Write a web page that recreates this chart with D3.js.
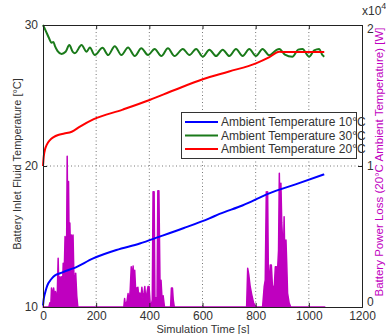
<!DOCTYPE html>
<html><head><meta charset="utf-8">
<script src="https://cdn.jsdelivr.net/npm/d3@7"></script>
<style>
body{margin:0;background:#fff;}
text{font-family:"Liberation Sans",Arial,sans-serif;}
</style></head>
<body><svg id="c" width="386" height="334"></svg>
<script>
const xTicks=[0,200,400,600,800,1000,1200];
const yLeftTicks=[10,20,30];
const yRightTicks=[0,10000,20000];
const yRightTickLabels=["0","1","2"];

const blueT=[0,3,7.5,13,20,30,39,50,64,85,114,189,276,364,439,530,626,664,750,851,950,1058];
const blueV=[10.1,10.6,10.97,11.35,11.68,11.95,12.15,12.3,12.39,12.55,12.74,13.45,14.04,14.5,14.99,15.6,16.29,16.6,17.2,18.06,18.7,19.41];

const greenT=[0,10,22,32,39,45,55,70,85,99,112,120,145,164,176,195,224,245,270,295,320,345,370,395,420,445,470,495,526,551,576,601,626,651,676,701,726,751,776,801,826,851,876,889,910,938,960,976,1001,1020,1039,1050,1058];
const greenV=[30.0,29.6,29.1,28.75,28.8,28.5,28.15,27.95,28.1,28.58,28.1,28.0,28.58,28.1,28.4,27.87,28.38,27.87,28.5,27.87,28.4,27.8,28.35,27.87,28.3,27.8,28.35,27.8,28.3,27.87,28.3,27.75,28.25,27.8,28.25,27.8,28.3,27.8,28.3,27.8,28.3,27.85,28.2,28.3,27.9,27.75,28.25,28.3,27.75,28.2,28.3,27.9,27.75];

const redT=[0,3,8,14,26,40,57,80,108,139,189,300,401,495,601,700,801,850,889,914,1058];
const redV=[20.0,20.7,21.2,21.5,21.84,22.05,22.2,22.3,22.43,22.79,23.3,24.0,24.68,25.39,26.15,26.7,27.28,27.7,28.1,28.08,28.08];

const powerT=[0,22,26,29,32,36,40,44,47,51,54,57,60,64,67,70,73,76,79,83,86,89,91,93,96,98,101,104,107,110,113,116,120,123,127,131,
300,304,307,310,316,320,324,328,332,336,339,342,345,349,353,357,360,364,368,372,376,380,383,387,391,395,399,403,407,411,414,418,421,425,429,432,436,440,444,448,452,457,480,483,487,490,494,
762,766,770,774,779,785,792,801,
826,832,836,840,843,845,848,851,855,859,863,867,870,874,878,882,886,889,892,895,898,901,904,907,910,914,917,920,926,932,1060];
const powerW=[0,0,300,0,1350,800,1350,700,1100,600,1100,3450,900,2150,1300,2150,1200,3100,1800,5000,3500,5000,10700,6000,8900,5000,5950,3500,5100,3000,5100,2400,1500,2400,800,0,
0,0,600,100,400,950,300,1200,2850,2000,2900,1500,2600,1000,1350,1400,800,1000,500,1400,600,1000,1450,400,1000,1450,1450,300,100,500,8180,8180,700,600,700,8250,8250,1900,1900,500,800,0,0,1350,1350,500,0,
0,0,2740,2300,1500,900,300,0,
0,1440,1900,8180,3000,8180,1900,1900,2980,2980,1500,1440,1440,2860,2860,2500,4000,9480,6000,8770,6000,4920,3000,6400,3000,4750,3000,990,280,0,0];

const legendNames=["Ambient Temperature 10°C","Ambient Temperature 30°C","Ambient Temperature 20°C"];
const legendColors=["#0000ff","#1a7a1a","#ff0000"];
const magenta="#bf00bf";

const svg=d3.select("#c");
const L=43,R=362,T=25,B=307;
const x=d3.scaleLinear().domain([0,1200]).range([L,R]);
const yL=d3.scaleLinear().domain([10,30]).range([B,T]);
const yR=d3.scaleLinear().domain([0,20000]).range([B,T]);

// grid
const grid=svg.append("g").attr("stroke","#555").attr("stroke-width",0.8).attr("stroke-dasharray","1,2.5");
xTicks.slice(1,-1).forEach(t=>grid.append("line").attr("x1",x(t)).attr("x2",x(t)).attr("y1",T).attr("y2",B));
yLeftTicks.slice(1,-1).forEach(t=>grid.append("line").attr("x1",L).attr("x2",R).attr("y1",yL(t)).attr("y2",yL(t)));

// power area
const pData=powerT.map((t,i)=>[t,powerW[i]]);
svg.append("path").datum(pData)
  .attr("d",d3.area().x(d=>x(d[0])).y0(yR(0)).y1(d=>yR(d[1])))
  .attr("fill",magenta).attr("stroke",magenta).attr("stroke-width",1.5).attr("stroke-linejoin","round");

const line=d3.line().x(d=>x(d[0])).y(d=>yL(d[1])).curve(d3.curveMonotoneX);
function series(T_,V_,c){
  svg.append("path").datum(T_.map((t,i)=>[t,V_[i]])).attr("d",line)
    .attr("fill","none").attr("stroke",c).attr("stroke-width",2);
}
series(greenT,greenV,legendColors[1]);
series(redT,redV,legendColors[2]);
series(blueT,blueV,legendColors[0]);

// axes
const axB=d3.axisBottom(x).tickValues(xTicks).tickSize(-4).tickPadding(4).tickFormat(d3.format("d"));
const gB=svg.append("g").attr("transform",`translate(0,${B})`).call(axB);
const axT=d3.axisTop(x).tickValues(xTicks).tickSize(-4).tickFormat("");
const gT=svg.append("g").attr("transform",`translate(0,${T})`).call(axT);
const axL=d3.axisLeft(yL).tickValues(yLeftTicks).tickSize(-4).tickPadding(5).tickFormat(d3.format("d"));
const gL=svg.append("g").attr("transform",`translate(${L},0)`).call(axL);
const axR=d3.axisRight(yR).tickValues(yRightTicks).tickSize(-4).tickPadding(5).tickFormat((d,i)=>yRightTickLabels[i]);
const gR=svg.append("g").attr("transform",`translate(${R},0)`).call(axR);
[gB,gT,gL,gR].forEach(g=>{
  g.select(".domain").attr("stroke","#222").attr("stroke-width",1);
  g.selectAll(".tick line").attr("stroke","#222");
  g.selectAll("text").attr("font-size",12).attr("fill","#333").attr("font-family","Liberation Sans,Arial,sans-serif");
});
gR.selectAll(".tick text").filter((d,i)=>i===2).attr("dy","0.6em");
gR.selectAll(".tick text").filter((d,i)=>i===0).attr("dy","-0.15em");

// exponent label
const ex=svg.append("text").attr("x",362).attr("y",15).attr("font-size",12).attr("fill","#333");
ex.append("tspan").text("x10");
ex.append("tspan").attr("dy",-6).attr("font-size",9).text("4");

// axis labels
svg.append("text").attr("x",203).attr("y",333).attr("text-anchor","middle")
  .attr("font-size",11).attr("fill","#333").text("Simulation Time [s]");
svg.append("text").attr("transform",`translate(21,164) rotate(-90)`).attr("text-anchor","middle")
  .attr("font-size",11).attr("fill","#333").text("Battery Inlet Fluid Temperature [°C]");
svg.append("text").attr("transform",`translate(383,162) rotate(-90)`).attr("text-anchor","middle")
  .attr("font-size",11.5).attr("fill",magenta).text("Battery Power Loss (20°C Ambient Temperature) [W]");

// legend
const lg=svg.append("g");
lg.append("rect").attr("x",181.5).attr("y",112.5).attr("width",175).attr("height",46)
  .attr("fill","#fff").attr("stroke","#333").attr("stroke-width",1);
legendNames.forEach((n,i)=>{
  const yy=122+i*13.5;
  lg.append("line").attr("x1",185).attr("x2",218).attr("y1",yy).attr("y2",yy).attr("stroke",legendColors[i]).attr("stroke-width",2);
  lg.append("text").attr("x",221).attr("y",yy+4).attr("font-size",12).attr("fill","#333").text(n);
});
</script></body></html>
